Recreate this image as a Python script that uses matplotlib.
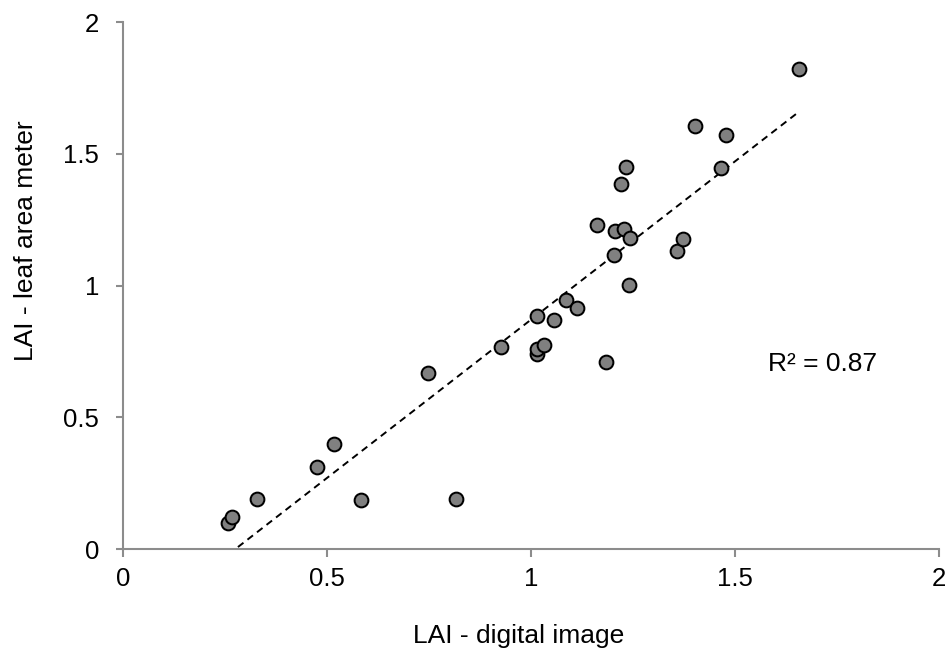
import numpy as np
import matplotlib
matplotlib.use("Agg")
import matplotlib.pyplot as plt

plt.rcParams['font.family'] = ['Liberation Sans', 'DejaVu Sans']

lai_digital = [0.259, 0.269, 0.328, 0.477, 0.518, 0.583, 0.748, 0.816, 0.927,
               1.014, 1.016, 1.032, 1.015, 1.057, 1.087, 1.114, 1.183, 1.163,
               1.206, 1.228, 1.243, 1.203, 1.241, 1.221, 1.233, 1.359, 1.372,
               1.402, 1.479, 1.465, 1.657]
lai_meter = [0.101, 0.122, 0.190, 0.314, 0.399, 0.187, 0.668, 0.190, 0.769,
             0.741, 0.758, 0.776, 0.886, 0.869, 0.947, 0.915, 0.709, 1.230,
             1.209, 1.216, 1.180, 1.115, 1.004, 1.387, 1.451, 1.132, 1.177,
             1.605, 1.570, 1.447, 1.823]
tick_vals = [0, 0.5, 1, 1.5, 2]
tick_labels = ['0', '0.5', '1', '1.5', '2']
r2_label = 'R² = 0.87'

x = np.array(lai_digital)
y = np.array(lai_meter)

W, H = 948, 653
fig = plt.figure(figsize=(W/100, H/100), dpi=100)
ax = fig.add_axes([122.7/W, 1-549.3/H, (939-122.7)/W, (549.3-22)/H])

slope, intercept = np.polyfit(x, y, 1)
xl = np.array([x.min(), x.max()])
ax.plot(xl, slope*xl + intercept, color='black', lw=1.4, ls=(0, (3.6, 2.6)), zorder=2)

ax.scatter(x, y, s=98, facecolor='#808080', edgecolor='black', linewidth=1.45, zorder=3)

ax.set_xlim(0, 2)
ax.set_ylim(0, 2)
ax.set_xticks(tick_vals)
ax.set_xticklabels(tick_labels)
ax.set_yticks(tick_vals)
ax.set_yticklabels(tick_labels)
for s in ['top', 'right']:
    ax.spines[s].set_visible(False)
for s in ['left', 'bottom']:
    ax.spines[s].set_color('#8c8c8c')
    ax.spines[s].set_linewidth(1.5)
ax.tick_params(axis='both', direction='out', length=5.4, width=1.5, color='#8c8c8c',
               labelsize=18.5, labelcolor='black')
ax.tick_params(axis='x', pad=7)
ax.tick_params(axis='y', pad=11.5)

fig.text(519/W, 1-643/H, 'LAI - digital image', fontsize=19,
         ha='center', va='baseline')
fig.text(33/W, 1-241/H, 'LAI - leaf area meter', fontsize=19, rotation=90,
         rotation_mode='anchor', ha='center', va='baseline')

ax.text(1.58, 0.6745, r2_label, fontsize=19, va='baseline', ha='left')

fig.savefig('out.png', dpi=100)
